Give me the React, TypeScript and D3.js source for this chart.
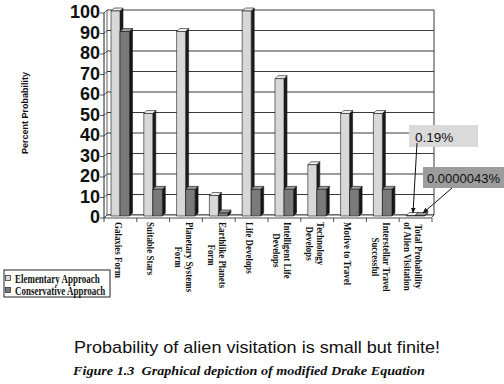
import React from "react";
import * as d3 from "d3";

const categories: string[][] = [
  ["Galaxies Form"],
  ["Suitable Stars"],
  ["Planetary Systems", "Form"],
  ["Earthlike Planets", "Form"],
  ["Life Develops"],
  ["Intelligent Life", "Develops"],
  ["Technology", "Develops"],
  ["Motive to Travel"],
  ["Interstellar Travel", "Successful"],
  ["Total Probability", "of Alien Visitation"],
];
const elementary = [100, 50, 90, 10, 100, 67, 25, 50, 50, 0.19];
const conservative = [90, 13, 13, 1.5, 13, 13, 13, 13, 13, 0.0000043];
const yTicks = [0, 10, 20, 30, 40, 50, 60, 70, 80, 90, 100];
const seriesNames = ["Elementary Approach", "Conservative Approach"];
const annotations = ["0.19%", "0.0000043%"];
const yTitle = "Percent Probability";
const headline = "Probability of alien visitation is small but finite!";
const caption = "Figure 1.3  Graphical depiction of modified Drake Equation";

const D = 3;
const ys = d3.scaleLinear().domain([0, 100]).range([215, 10]);
const xs = d3
  .scaleBand<number>()
  .domain(d3.range(categories.length))
  .range([104, 432])
  .padding(0);

let ctx: CanvasRenderingContext2D | null = null;
function measure(t: string, font: string) {
  if (!ctx) ctx = document.createElement("canvas").getContext("2d");
  if (!ctx) return t.length * 5;
  ctx.font = font;
  return ctx.measureText(t).width;
}

function Bar({ x, w, v, front, top, side }: any) {
  const y0 = 216;
  const y1 = Math.min(ys(v) + 1, y0 - 0.5);
  return (
    <g stroke="#1a1a1a" strokeWidth={0.6} strokeLinejoin="round">
      <polygon
        points={`${x + w},${y1} ${x + w + D},${y1 - D} ${x + w + D},${y0 - D} ${x + w},${y0}`}
        fill={side}
      />
      <polygon
        points={`${x},${y1} ${x + w},${y1} ${x + w + D},${y1 - D} ${x + D},${y1 - D}`}
        fill={top}
      />
      <rect x={x} y={y1} width={w} height={y0 - y1} fill={front} />
    </g>
  );
}

export default function App() {
  const catFont = 'bold 10.5px "Liberation Serif"';
  const sx = 0.85;
  return (
    <svg
      width={504}
      height={384}
      style={{ position: "absolute", left: 0, top: 0, background: "#fff" }}
    >
      <defs>
        <marker id="ah" viewBox="0 0 10 10" refX="9" refY="5" markerWidth="6" markerHeight="6" orient="auto">
          <path d="M0,1 L10,5 L0,9 z" fill="#111" />
        </marker>
      </defs>
      {/* back wall gridlines */}
      {yTicks.map((t) => (
        <line key={"g" + t} x1={107} x2={434} y1={ys(t)} y2={ys(t)} stroke="#3a3a3a" strokeWidth={1} />
      ))}
      <line x1={434} x2={434} y1={ys(100)} y2={ys(0)} stroke="#3a3a3a" strokeWidth={1} />
      <line x1={107} x2={107} y1={ys(100)} y2={ys(0)} stroke="#3a3a3a" strokeWidth={0.8} />
      {/* left wall */}
      {yTicks.map((t) => (
        <g key={"lw" + t} stroke="#333" strokeWidth={0.8}>
          <line x1={104} y1={ys(t) + D} x2={107} y2={ys(t)} />
          <line x1={100} y1={ys(t) + D} x2={104} y2={ys(t) + D} />
        </g>
      ))}
      <line x1={104} x2={104} y1={ys(100) + D} y2={ys(0) + D} stroke="#222" strokeWidth={1} />
      {/* floor */}
      <polygon
        points={`104,${ys(0) + D} 431,${ys(0) + D} 434,${ys(0)} 107,${ys(0)}`}
        fill="#fff"
        stroke="#222"
        strokeWidth={0.8}
      />
      {d3.range(categories.length + 1).map((i) => {
        const x = 104 + i * xs.step();
        return <line key={"ct" + i} x1={x} x2={x} y1={ys(0) + D} y2={ys(0) + D + 4} stroke="#222" strokeWidth={0.8} />;
      })}
      {/* y tick labels */}
      {yTicks.map((t) => (
        <text
          key={"yl" + t}
          x={100}
          y={ys(t) + 2}
          textAnchor="end"
          dominantBaseline="central"
          fontFamily="'Liberation Sans', Arial, sans-serif"
          fontWeight="bold"
          fontSize={18}
          fill="#111"
        >
          {t}
        </text>
      ))}
      <text
        transform="translate(25,113) rotate(-90)"
        textAnchor="middle"
        dominantBaseline="central"
        fontFamily="'Liberation Sans', Arial, sans-serif"
        fontWeight="bold"
        fontSize={9}
        fill="#111"
      >
        {yTitle}
      </text>
      {/* bars */}
      {categories.map((_, i) => {
        const left = xs(i) as number;
        return (
          <g key={"b" + i}>
            <Bar x={left + 7} w={9} v={elementary[i]} front="#d8d8d8" top="#ececec" side="#1c1c1c" />
            <Bar x={left + 16} w={9.5} v={conservative[i]} front="#7a7a7a" top="#9a9a9a" side="#151515" />
          </g>
        );
      })}
      {/* category labels */}
      {categories.map((lines, i) => {
        const c = (xs(i) as number) + xs.bandwidth() / 2;
        const maxW = d3.max(lines, (l) => measure(l, catFont)) as number;
        const yc = 222 + (maxW * sx) / 2;
        const n = lines.length;
        return (
          <g key={"cl" + i}>
            {lines.map((l, k) => (
              <text
                key={k}
                transform={`translate(${c - 2 + ((n - 1) / 2) * 11 - k * 11},${yc}) rotate(90) scale(${sx},1)`}
                textAnchor="middle"
                dominantBaseline="central"
                fontFamily="'Liberation Serif', 'Times New Roman', serif"
                fontWeight="bold"
                fontSize={10.5}
                fill="#111"
              >
                {l}
              </text>
            ))}
          </g>
        );
      })}
      {/* legend */}
      <rect x={4} y={270} width={106} height={27} fill="#fff" stroke="#222" strokeWidth={1} />
      <rect x={5.5} y={275.5} width={5} height={5} fill="#d8d8d8" stroke="#222" strokeWidth={0.7} />
      <rect x={5.5} y={287.5} width={5} height={5} fill="#7a7a7a" stroke="#222" strokeWidth={0.7} />
      {seriesNames.map((s, i) => (
        <text
          key={s}
          transform={`translate(15,${283 + i * 12}) scale(0.78,1)`}
          fontFamily="'Liberation Serif', 'Times New Roman', serif"
          fontWeight="bold"
          fontSize={11.5}
          fill="#111"
        >
          {s}
        </text>
      ))}
      {/* annotations */}
      <rect x={409} y={125} width={69} height={22} fill="#dadada" />
      <text x={415} y={142} fontFamily="'Liberation Sans', Arial, sans-serif" fontSize={13.5} fill="#111">
        {annotations[0]}
      </text>
      <line x1={417} y1={143} x2={413} y2={213} stroke="#111" strokeWidth={1} markerEnd="url(#ah)" />
      <rect x={423} y={167} width={81} height={21} fill="#9c9c9c" />
      <text x={427} y={183} fontFamily="'Liberation Sans', Arial, sans-serif" fontSize={13} fill="#111">
        {annotations[1]}
      </text>
      <line x1={452} y1={188} x2={423} y2={213} stroke="#111" strokeWidth={1} markerEnd="url(#ah)" />
      {/* footer */}
      <text
        x={257}
        y={353}
        textAnchor="middle"
        fontFamily="'Liberation Sans', Arial, sans-serif"
        fontSize={17}
        textLength={366}
        lengthAdjust="spacingAndGlyphs"
        fill="#111"
      >
        {headline}
      </text>
      <text
        x={249}
        y={375}
        textAnchor="middle"
        fontFamily="'Liberation Serif', 'Times New Roman', serif"
        fontWeight="bold"
        fontStyle="italic"
        fontSize={13}
        textLength={352}
        lengthAdjust="spacingAndGlyphs"
        fill="#111"
        style={{ whiteSpace: "pre" }}
      >
        {caption}
      </text>
    </svg>
  );
}
